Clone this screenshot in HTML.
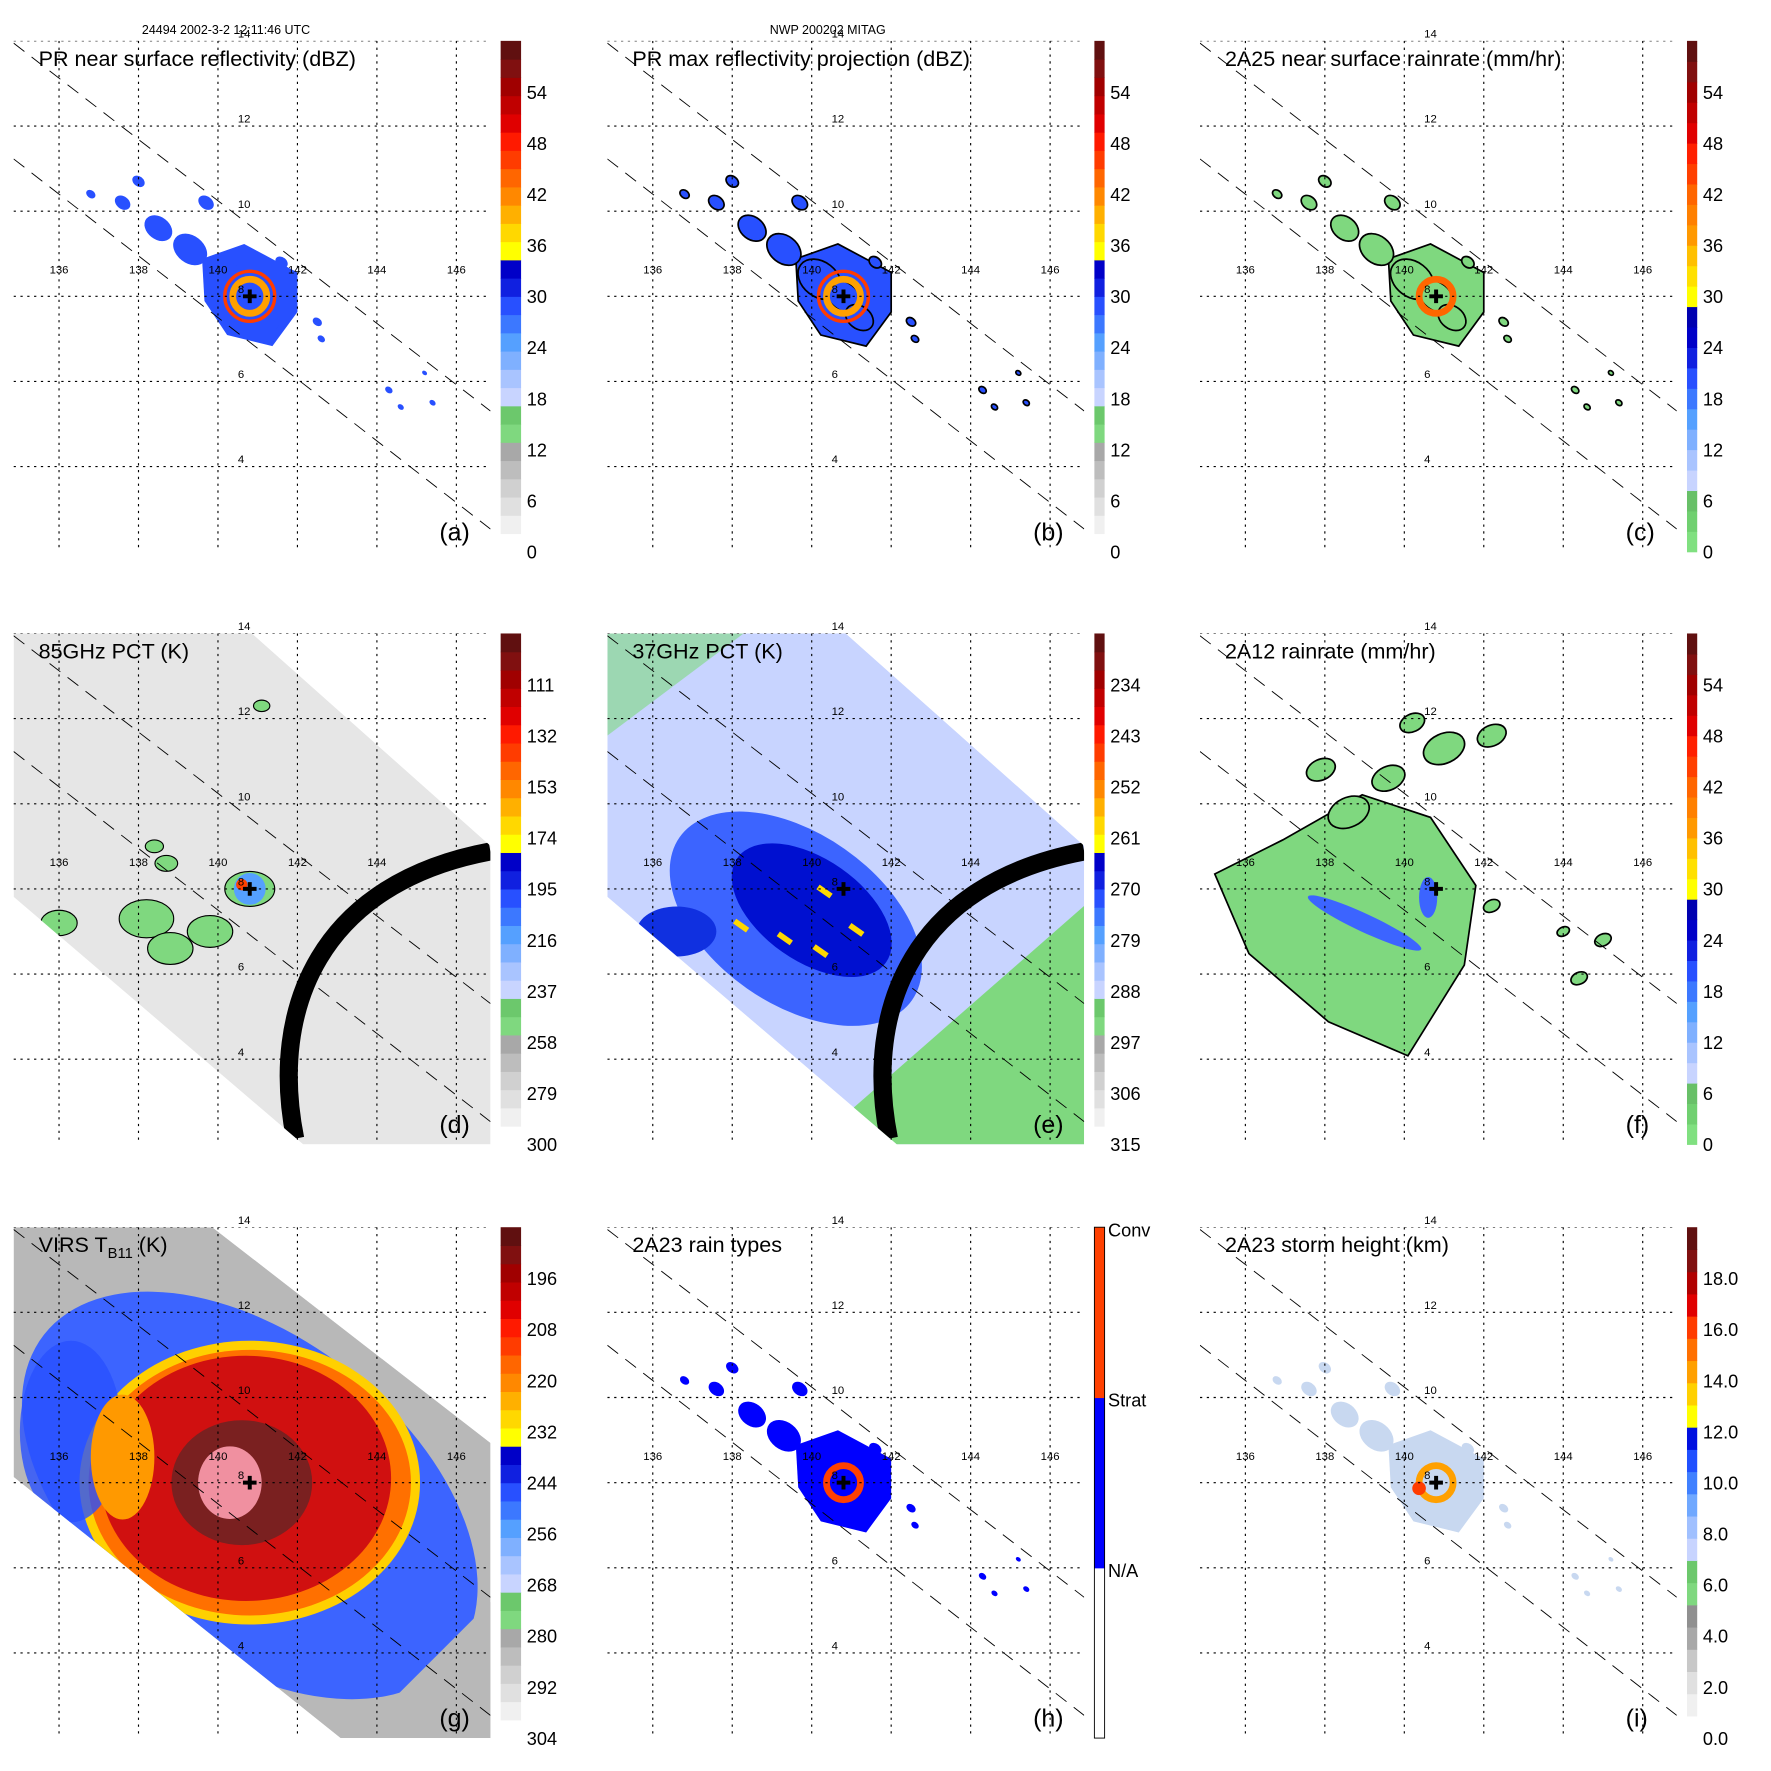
<!DOCTYPE html>
<html><head><meta charset="utf-8">
<style>
html,body{margin:0;padding:0;background:#fff;}
svg{display:block;font-family:"Liberation Sans",Helvetica,sans-serif;}
</style></head>
<body>
<svg id="fig" width="1771" height="1771" viewBox="0 0 1560 1560" xmlns="http://www.w3.org/2000/svg"></svg>
<script>
// ---- data arrays ----
const lonTicks=[136,138,140,142,144,146];
const latTicks=[14,12,10,8,6,4];
const stormLon=140.8, stormLat=8.0;
const titles=["PR near surface reflectivity (dBZ)","PR max reflectivity projection (dBZ)","2A25 near surface rainrate (mm/hr)","85GHz PCT (K)","37GHz PCT (K)","2A12 rainrate (mm/hr)","VIRS T","2A23 rain types","2A23 storm height (km)"];
const letters=["(a)","(b)","(c)","(d)","(e)","(f)","(g)","(h)","(i)"];
const cbLabels=[
["0","6","12","18","24","30","36","42","48","54"],
["0","6","12","18","24","30","36","42","48","54"],
["0","6","12","18","24","30","36","42","48","54"],
["300","279","258","237","216","195","174","153","132","111"],
["315","306","297","288","279","270","261","252","243","234"],
["0","6","12","18","24","30","36","42","48","54"],
["304","292","280","268","256","244","232","220","208","196"],
[],
["0.0","2.0","4.0","6.0","8.0","10.0","12.0","14.0","16.0","18.0"]];
const grayScale=["#ffffff","#f0f0f0","#e0e0e0","#d0d0d0","#bdbdbd","#a8a8a8","#7fd87f","#6cc86c","#c8d4ff","#a9c4ff","#7fb0ff","#55a0ff","#3c78ff","#2850ff","#1020e0","#0000c8","#ffff00","#ffd800","#ffb000","#ff8800","#ff6600","#ff3c00","#ff1a00","#e00000","#c00000","#a00000","#801010","#601010"];
const greenScale=["#80e080","#70d070","#68c068","#c8d4ff","#a9c4ff","#7fb0ff","#55a0ff","#3c78ff","#2850ff","#1020e0","#0000c8","#0000b0","#ffff00","#ffe000","#ffc000","#ff9900","#ff8000","#ff6600","#ff4000","#ff2000","#e00000","#c00000","#a00000","#801010","#601010"];
const heightScale=["#ffffff","#f0f0f0","#e0e0e0","#c8c8c8","#a8a8a8","#909090","#7fd87f","#6cc86c","#c8d4ff","#a0c0ff","#70a8ff","#4080ff","#2050ff","#0010e0","#ffff00","#ffd000","#ffa000","#ff7000","#ff3c00","#e00000","#b00000","#801010","#601010"];
const typeScale=["#ffffff","#ffffff","#0000ff","#0000ff","#ff4000","#ff4000"];
// storm core outline (lon, lat) for PR panels
const prCore=[[139.6,8.88],[140.66,9.23],[142.0,8.56],[142.0,7.63],[141.37,6.83],[140.23,7.09],[139.66,7.89]];
// 2A12 main rain area outline (lon, lat)
const f12Area=[[135.23,8.35],[136.94,9.15],[138.94,10.21],[140.66,9.68],[141.8,8.08],[141.51,6.21],[140.09,4.08],[138.09,4.88],[136.09,6.48]];
// rain cells: lon, lat, radius(deg)
const prCells=[[138.5,9.6,0.45],[139.3,9.1,0.55],[140.2,8.4,0.7],[140.8,8.0,0.55],[141.2,7.5,0.45],[137.6,10.2,0.25],[138.0,10.7,0.2],[141.6,8.8,0.2],[142.5,7.4,0.15],[142.6,7.0,0.12],[144.3,5.8,0.12],[144.6,5.4,0.1],[145.2,6.2,0.08],[145.4,5.5,0.1],[136.8,10.4,0.15],[139.7,10.2,0.25]];
const tmiCells=[[136.0,7.2,0.4],[138.2,7.3,0.6],[138.8,6.6,0.5],[139.8,7.0,0.5],[140.8,8.0,0.55],[138.7,8.6,0.25],[138.4,9.0,0.2],[141.1,12.3,0.18]];
const f12Cells=[[138.6,9.8,0.5],[139.6,10.6,0.4],[141.0,11.3,0.5],[142.2,11.6,0.35],[137.9,10.8,0.35],[140.2,11.9,0.3],[142.2,7.6,0.2],[144.0,7.0,0.15],[145.0,6.8,0.2],[144.4,5.9,0.2]];
// ---- helpers ----
const S=document.getElementById('fig'),NS="http://www.w3.org/2000/svg";
function mk(t,a,p){const e=document.createElementNS(NS,t);for(const k in a)e.setAttribute(k,a[k]);(p||S).appendChild(e);return e;}
const colL=[12,535,1057], rowT=[36,558,1081], W=420, H=450;
function X(i,lon){return colL[i%3]+40+(lon-136)*35;}
function Y(i,lat){return rowT[Math.floor(i/3)]+(14-lat)*37.5;}
function poly(i,arr){return arr.map(p=>X(i,p[0])+','+Y(i,p[1])).join(' ');}
mk('text',{x:125,y:30,'font-size':11}).textContent="24494 2002-3-2 12:11:46 UTC";
mk('text',{x:678,y:30,'font-size':11}).textContent="NWP 200202 MITAG";
for(let i=0;i<9;i++){
 const L=colL[i%3],T=rowT[Math.floor(i/3)];
 const g=mk('g',{});
 
 
 const cid='c'+i; const cp=mk('clipPath',{id:cid},g); mk('rect',{x:L,y:T,width:W,height:H},cp);
 const d=mk('g',{'clip-path':'url(#'+cid+')'},g);
 if(i==3||i==4){
   const pts=[[L,T],[L+210,T],[L+W,T+187],[L+W,T+H],[L+255,T+H],[L,T+232]].map(p=>p.join(',')).join(' ');
   const sid='s'+i; const sp=mk('clipPath',{id:sid},g); mk('polygon',{points:pts},sp);
   const dd=mk('g',{'clip-path':'url(#'+sid+')'},d);
   mk('polygon',{points:pts,fill:i==3?'#e6e6e6':'#c8d4ff'},dd);
   if(i==4){
     mk('polygon',{points:[[L+180,T+H],[L+W,T+240],[L+W,T+H]].map(p=>p.join(',')).join(' '),fill:'#7fd87f'},dd);
     mk('polygon',{points:[[L,T],[L+120,T],[L,T+90]].map(p=>p.join(',')).join(' '),fill:'#7fd87f',opacity:0.6},dd);
     mk('ellipse',{cx:X(i,139.6),cy:Y(i,7.3),rx:125,ry:75,fill:'#3c64ff',transform:`rotate(35 ${X(i,139.6)} ${Y(i,7.3)})`},dd);
     mk('ellipse',{cx:X(i,140),cy:Y(i,7.5),rx:80,ry:45,fill:'#0010d0',transform:`rotate(35 ${X(i,140)} ${Y(i,7.5)})`},dd);
     mk('ellipse',{cx:X(i,136.6),cy:Y(i,7.0),rx:35,ry:22,fill:'#1030e0'},dd);
     [[140.2,8.1],[139.2,7.0],[140.1,6.7],[141.0,7.2],[138.1,7.3]].forEach(c=>mk('rect',{x:X(i,c[0]),y:Y(i,c[1]),width:14,height:5,fill:'#ffd800',transform:`rotate(35 ${X(i,c[0])} ${Y(i,c[1])})`},dd));
   } else {
     tmiCells.forEach(c=>mk('ellipse',{cx:X(i,c[0]),cy:Y(i,c[1]),rx:c[2]*40,ry:c[2]*28,fill:'#7fd87f',stroke:'#000','stroke-width':1},dd));
     mk('circle',{cx:X(i,stormLon),cy:Y(i,stormLat),r:14,fill:'#55a0ff'},dd);
     mk('circle',{cx:X(i,stormLon-0.2),cy:Y(i,stormLat+0.1),r:5,fill:'#ff4000'},dd);
   }
   mk('path',{d:`M ${L+248} ${T+H-5} C ${L+225} ${T+330} ${L+270} ${T+220} ${L+W} ${T+192}`,fill:'none',stroke:'#000','stroke-width':16},dd);
 }
 if(i==6){
   const pts=[[L,T],[L+175,T],[L+W,T+190],[L+W,T+H],[L+288,T+H],[L,T+220]].map(p=>p.join(',')).join(' ');
   const sp=mk('clipPath',{id:'s6'},g); mk('polygon',{points:pts},sp);
   const dd=mk('g',{'clip-path':'url(#s6)'},d);
   mk('polygon',{points:pts,fill:'#b8b8b8'},dd);
   mk('ellipse',{cx:X(i,140.8),cy:Y(i,7.7),rx:230,ry:140,fill:'#3c64ff',transform:`rotate(38 ${X(i,140.8)} ${Y(i,7.7)})`},dd);
   mk('ellipse',{cx:X(i,140.8),cy:Y(i,8),rx:150,ry:125,fill:'#ffd000'},dd);
   mk('ellipse',{cx:X(i,140.8),cy:Y(i,8),rx:142,ry:117,fill:'#ff7000'},dd);
   mk('ellipse',{cx:X(i,140.7),cy:Y(i,8.1),rx:128,ry:108,fill:'#d01010'},dd);
   mk('ellipse',{cx:X(i,140.6),cy:Y(i,8.0),rx:62,ry:55,fill:'#7a2020'},dd);
   mk('ellipse',{cx:X(i,140.3),cy:Y(i,8.0),rx:28,ry:32,fill:'#f090a0'},dd);
   mk('ellipse',{cx:X(i,136.3),cy:Y(i,9.2),rx:45,ry:80,fill:'#2850ff',opacity:0.8},dd);
   mk('ellipse',{cx:X(i,137.6),cy:Y(i,8.6),rx:28,ry:55,fill:'#ff9900'},dd);
   mk('polygon',{points:[[L+300,T+H],[L+W,T+330],[L+W,T+H]].map(p=>p.join(',')).join(' '),fill:'#b8b8b8'},dd);
 }
 if([0,1,2,7,8].includes(i)){
   const fill=i==2?'#7fd87f':i==8?'#c8d8f0':i==7?'#0000ff':'#2850ff';
   mk('polygon',{points:poly(i,prCore),fill:fill,stroke:(i==1||i==2)?'#000':'none','stroke-width':1.5},d);
   prCells.forEach(c=>mk('ellipse',{cx:X(i,c[0]),cy:Y(i,c[1]),rx:c[2]*30,ry:c[2]*22,fill:fill,stroke:(i==1||i==2)?'#000':'none','stroke-width':1.5,transform:`rotate(38 ${X(i,c[0])} ${Y(i,c[1])})`},d));
   const cx=X(i,stormLon),cy=Y(i,stormLat);
   const ring=i==7?'#ff4000':i==2?'#ff6600':'#ffa000';
   mk('circle',{cx:cx,cy:cy,r:15,fill:'none',stroke:ring,'stroke-width':6},d);
   if(i<2)mk('circle',{cx:cx,cy:cy,r:22,fill:'none',stroke:'#ff3c00','stroke-width':3},d);
   if(i==8)mk('circle',{cx:cx-15,cy:cy+5,r:6,fill:'#ff3c00'},d);
 }
 if(i==5){
   mk('polygon',{points:poly(i,f12Area),fill:'#7fd87f',stroke:'#000','stroke-width':1.5},d);
   f12Cells.forEach(c=>mk('ellipse',{cx:X(i,c[0]),cy:Y(i,c[1]),rx:c[2]*38,ry:c[2]*26,fill:'#7fd87f',stroke:'#000','stroke-width':1.5,transform:`rotate(-25 ${X(i,c[0])} ${Y(i,c[1])})`},d));
   mk('ellipse',{cx:X(i,139),cy:Y(i,7.2),rx:55,ry:8,fill:'#3c64ff',transform:`rotate(25 ${X(i,139)} ${Y(i,7.2)})`},d);
   mk('ellipse',{cx:X(i,140.6),cy:Y(i,7.8),rx:8,ry:18,fill:'#3c64ff'},d);
 }
 lonTicks.forEach(lo=>{const x=X(i,lo);mk('line',{x1:x,y1:T,x2:x,y2:T+H,stroke:'#000','stroke-dasharray':'2,4','stroke-width':1},d);
   const t=mk('text',{x:x,y:Y(i,8)-20,'font-size':10,'text-anchor':'middle'},g);t.textContent=lo;});
 latTicks.forEach(la=>{const y=Y(i,la);mk('line',{x1:L,y1:y,x2:L+W,y2:y,stroke:'#000','stroke-dasharray':'2,4','stroke-width':1},d);
   const t=mk('text',{x:X(i,140.5),y:y-3,'font-size':10},g);t.textContent=la;});
 mk('line',{x1:L,y1:T+2,x2:L+W,y2:T+326,stroke:'#000','stroke-dasharray':'12,8','stroke-width':0.8},d);
 mk('line',{x1:L,y1:T+104,x2:L+W,y2:T+430,stroke:'#000','stroke-dasharray':'12,8','stroke-width':0.8},d);
 const sx=X(i,stormLon),sy=Y(i,stormLat);
 mk('path',{d:`M${sx-6} ${sy}H${sx+6}M${sx} ${sy-6}V${sy+6}`,stroke:'#000','stroke-width':3.5},g);
 const tt=mk('text',{x:L+22,y:T+22,'font-size':19},g);tt.textContent=titles[i];
 
 if(i==6){const s=mk('tspan',{'font-size':13,dy:5},tt);s.textContent="B11";const s2=mk('tspan',{dy:-5},tt);s2.textContent=" (K)";}
 const lt=mk('text',{x:L+W-45,y:T+H-10,'font-size':22},g);lt.textContent=letters[i];
 const cbx=L+W+9, cw=i%3==0?18:9;
 const sc=i==7?typeScale:(i==2||i==5)?greenScale:i==8?heightScale:grayScale;
 const cb=mk('g',{},g);
 const hh=H/sc.length;
 sc.forEach((c,k)=>mk('rect',{x:cbx,y:T+H-(k+1)*hh,width:cw,height:hh+0.5,fill:c},cb));
 if(i==7)mk('rect',{x:cbx,y:T,width:cw,height:H,fill:'none',stroke:'#000','stroke-width':0.8},cb);
 cbLabels[i].forEach((s,k)=>{const t=mk('text',{x:cbx+cw+5,y:T+H-k*45+6,'font-size':16},cb);t.textContent=s;});
 if(i==7){[["Conv",0],["Strat",150],["N/A",300]].forEach(a=>{const t=mk('text',{x:cbx+cw+3,y:T+a[1]+8,'font-size':16},cb);t.textContent=a[0];});}
}
</script>
</body></html>
